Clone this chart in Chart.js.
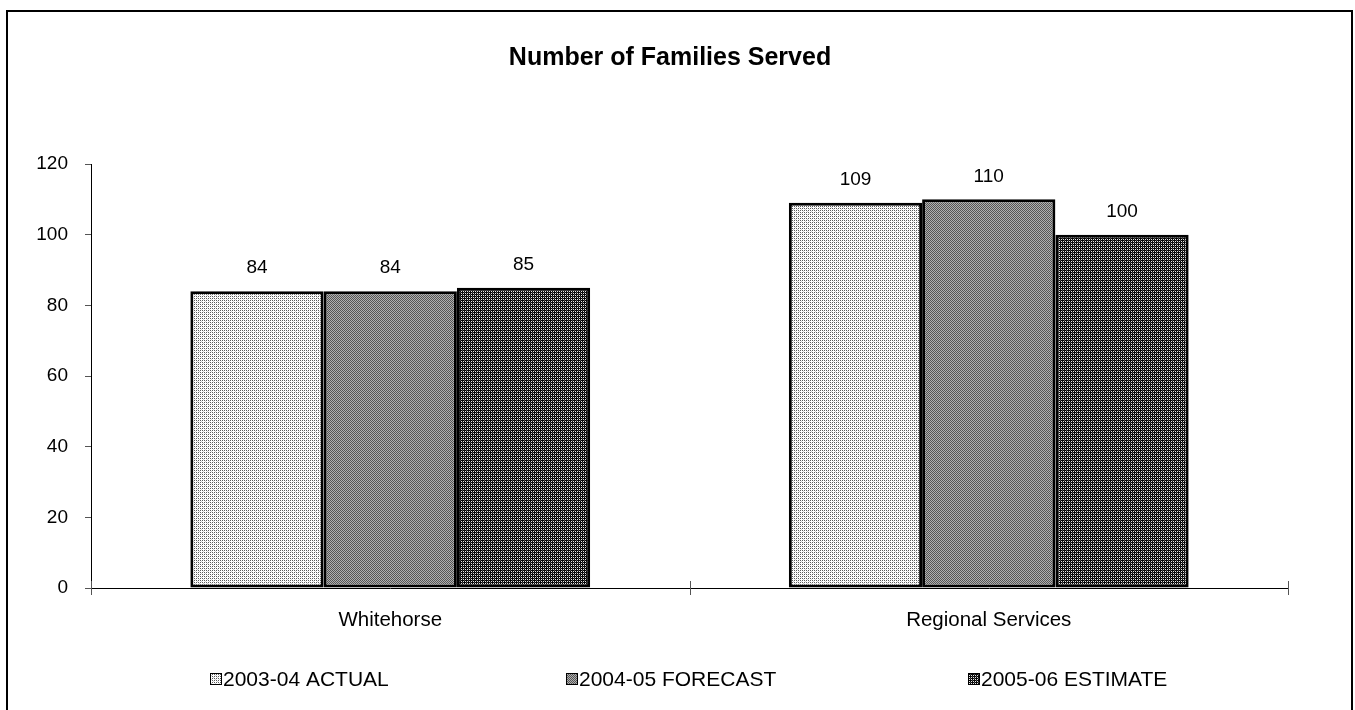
<!DOCTYPE html>
<html>
<head>
<meta charset="utf-8">
<script src="https://cdn.jsdelivr.net/npm/chart.js@4.4.1/dist/chart.umd.min.js"></script>
<style>
html,body{margin:0;padding:0;background:#fff;}
#wrap{position:relative;width:1355px;height:710px;}
</style>
</head>
<body>
<div id="wrap"><canvas id="c" width="1355" height="710"></canvas></div>
<script>
const chartTitle = "Number of Families Served";
const categories = ["Whitehorse", "Regional Services"];
const seriesNames = ["2003-04 ACTUAL", "2004-05 FORECAST", "2005-06 ESTIMATE"];
const actual2003 = [84, 109];
const forecast2004 = [84, 110];
const estimate2005 = [85, 100];
const yTicks = [0, 20, 40, 60, 80, 100, 120];

const FONT = "'Liberation Sans', Arial, sans-serif";

function makePattern(kind) {
  const c = document.createElement('canvas');
  c.width = 4; c.height = 4;
  const g = c.getContext('2d');
  if (kind === 0) {
    g.fillStyle = '#ffffff'; g.fillRect(0,0,4,4);
    g.fillStyle = '#5a5a5a';
    g.fillRect(0,0,1,1); g.fillRect(2,0,1,1); g.fillRect(0,2,1,1); g.fillRect(2,2,1,1);
    g.fillStyle = '#cfcfcf'; g.fillRect(1,1,1,1); g.fillRect(3,3,1,1);
  } else if (kind === 1) {
    for (let y=0;y<4;y++) for (let x=0;x<4;x++) {
      g.fillStyle = ((x+y)%2===0) ? '#555555' : '#b0b0b0';
      g.fillRect(x,y,1,1);
    }
  } else {
    g.fillStyle = '#080808'; g.fillRect(0,0,4,4);
    g.fillStyle = '#e8e8e8';
    g.fillRect(1,1,1,1); g.fillRect(3,1,1,1); g.fillRect(1,3,1,1); g.fillRect(3,3,1,1);
    g.fillStyle = '#4a4a4a'; g.fillRect(0,0,1,1); g.fillRect(2,2,1,1);
  }
  return document.getElementById('c').getContext('2d').createPattern(c, 'repeat');
}
const patterns = [makePattern(0), makePattern(1), makePattern(2)];
const seriesData = [actual2003, forecast2004, estimate2005];

const decorPlugin = {
  id: 'decor',
  beforeDraw(chart) {
    const ctx = chart.ctx;
    ctx.save();
    ctx.fillStyle = '#fff';
    ctx.fillRect(0,0,chart.width,chart.height);
    ctx.strokeStyle = '#000';
    ctx.lineWidth = 2;
    ctx.strokeRect(7, 11, 1345, 710);
    ctx.restore();
  },
  afterDatasetsDraw(chart) {
    const ctx = chart.ctx;
    ctx.save();
    // data labels
    ctx.font = "19px " + FONT;
    ctx.fillStyle = '#000';
    ctx.textAlign = 'center';
    ctx.textBaseline = 'middle';
    chart.data.datasets.forEach((ds, i) => {
      chart.getDatasetMeta(i).data.forEach((bar, j) => {
        ctx.fillText(String(ds.data[j]), bar.x, bar.y - 23);
      });
    });
    // x axis crossing ticks
    const xs = chart.scales.x;
    const y0 = chart.scales.y.getPixelForValue(0);
    ctx.strokeStyle = '#555';
    ctx.lineWidth = 1;
    const n = categories.length;
    for (let k = 0; k <= n; k++) {
      const px = Math.round(xs.left + (xs.right - xs.left) * k / n) + 0.5;
      ctx.beginPath(); ctx.moveTo(px, y0 - 7); ctx.lineTo(px, y0 + 7); ctx.stroke();
    }
    // title
    ctx.font = "bold 25px " + FONT;
    ctx.fillText(chartTitle, 670, 58);
    // legend
    const lx = [210, 566, 968];
    ctx.font = "21px " + FONT;
    ctx.textAlign = 'left';
    seriesNames.forEach((name, i) => {
      ctx.fillStyle = patterns[i];
      ctx.fillRect(lx[i], 673, 12, 12);
      ctx.strokeStyle = '#000';
      ctx.lineWidth = 1;
      ctx.strokeRect(lx[i] + 0.5, 673.5, 11, 11);
      ctx.fillStyle = '#000';
      ctx.fillText(name, lx[i] + 13, 680);
    });
    ctx.restore();
  }
};

new Chart(document.getElementById('c'), {
  type: 'bar',
  data: {
    labels: categories,
    datasets: seriesNames.map((name, i) => ({
      label: name,
      data: seriesData[i],
      backgroundColor: patterns[i],
      borderColor: '#000',
      borderWidth: 3,
      borderSkipped: false,
      categoryPercentage: 0.668,
      barPercentage: 1.0
    }))
  },
  options: {
    responsive: false,
    animation: false,
    devicePixelRatio: 1,
    layout: { padding: { top: 164, right: 67, left: 0, bottom: 0 } },
    plugins: {
      legend: { display: false },
      title: { display: false },
      tooltip: { enabled: false }
    },
    scales: {
      x: {
        offset: true,
        grid: { display: true, offset: true, drawOnChartArea: false, drawTicks: false, color: '#555' },
        border: { display: true, color: '#000', width: 1 },
        ticks: { color: '#000', font: { family: FONT, size: 20.5 }, padding: 20 },
        afterFit(s) { s.height = 122; }
      },
      y: {
        min: 0, max: 120,
        afterBuildTicks(s) { s.ticks = yTicks.map(v => ({ value: v })); },
        grid: { drawOnChartArea: false, drawTicks: true, tickLength: 6, color: '#555' },
        border: { display: true, color: '#000', width: 1 },
        ticks: { color: '#000', font: { family: FONT, size: 19 }, padding: 17 },
        afterFit(s) { s.width = 91; }
      }
    }
  },
  plugins: [decorPlugin]
});
</script>
</body>
</html>
